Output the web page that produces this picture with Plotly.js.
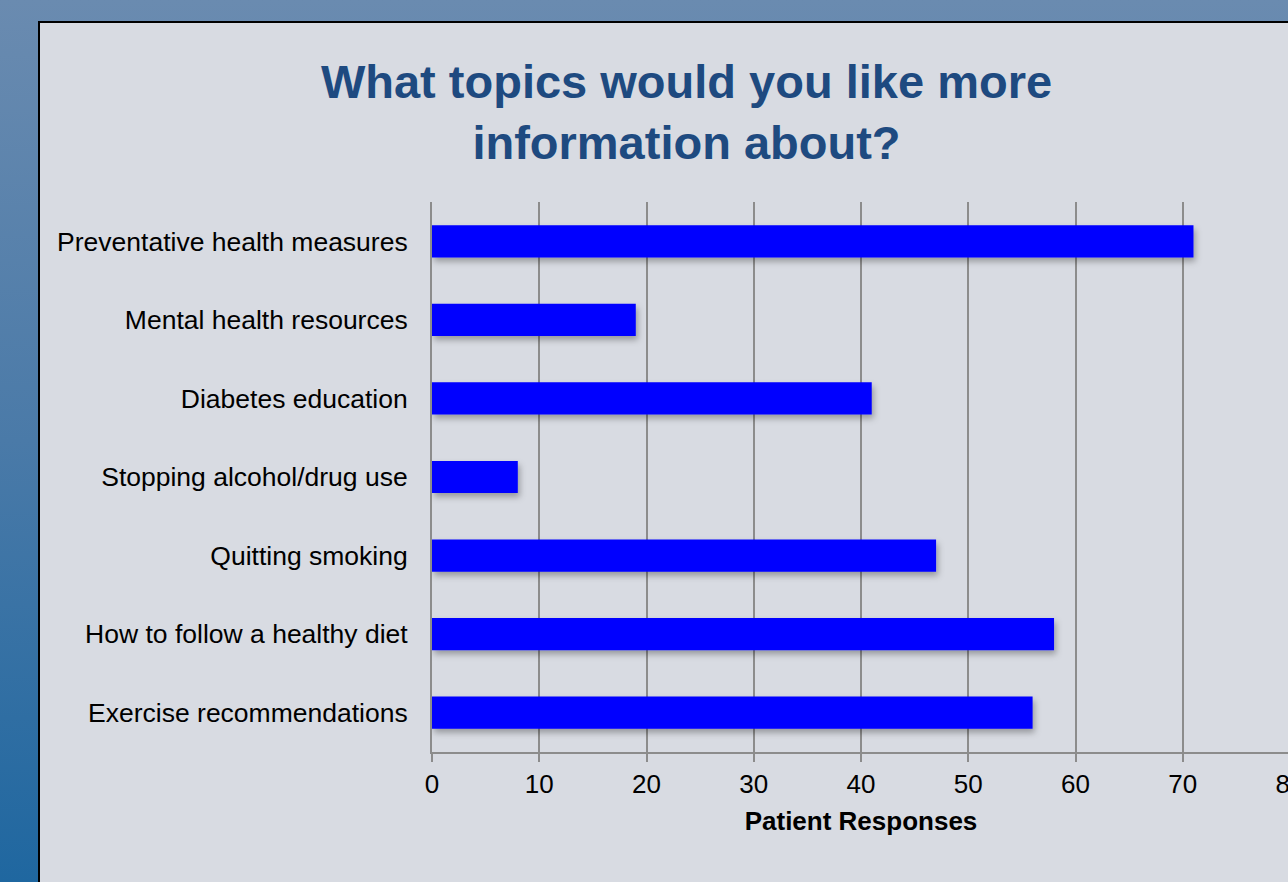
<!DOCTYPE html>
<html>
<head>
<meta charset="utf-8">
<script src="https://cdn.plot.ly/plotly-3.0.1.min.js"></script>
<style>
  html, body { margin: 0; padding: 0; width: 1288px; height: 882px; overflow: hidden; }
  body { background: linear-gradient(to bottom, #6a8bb0 0%, #4a7aa8 50%, #1f67a0 100%); position: relative; }
  #panel { position: absolute; left: 38px; top: 21px; width: 1300px; height: 900px;
           background: #d8dbe2; border-left: 2px solid #000; border-top: 2px solid #000; }
  #chart { position: absolute; left: 0; top: 0; width: 1320px; height: 882px; }
</style>
</head>
<body>
<div id="panel"></div>
<div id="chart"></div>
<script>
// Data (top to bottom as shown)
const categories = [
  "Preventative health measures",
  "Mental health resources",
  "Diabetes education",
  "Stopping alcohol/drug use",
  "Quitting smoking",
  "How to follow a healthy diet",
  "Exercise recommendations"
];
const responses = [71, 19, 41, 8, 47, 58, 56];
const tickValues = [0, 10, 20, 30, 40, 50, 60, 70, 80];

const trace = {
  type: "bar",
  orientation: "h",
  y: categories,
  x: responses,
  width: 0.41,
  marker: { color: "#0000ff", line: { width: 0 } },
  hoverinfo: "x+y"
};

const FONT = "Arial, 'Liberation Sans', Helvetica, sans-serif";
const W = 1320;

const layout = {
  width: W,
  height: 882,
  margin: { l: 432, r: 30, t: 202, b: 130 },
  paper_bgcolor: "rgba(0,0,0,0)",
  plot_bgcolor: "rgba(0,0,0,0)",
  showlegend: false,
  font: { family: FONT, color: "#000" },
  title: {
    text: "<b>What topics would you like more<br>information about?</b>",
    font: { family: FONT, size: 47, color: "#1e4a80" },
    xref: "container",
    x: 686.5 / W,
    xanchor: "center",
    yref: "container",
    y: 1 - 98 / 882,
    yanchor: "middle"
  },
  xaxis: {
    range: [0, 80],
    tickvals: tickValues,
    ticktext: tickValues.map(String),
    showgrid: true,
    gridcolor: "#8c8c8c",
    gridwidth: 2,
    zeroline: false,
    showline: true,
    linecolor: "#8c8c8c",
    linewidth: 2,
    ticks: "outside",
    ticklen: 8,
    tickwidth: 2,
    tickcolor: "#8c8c8c",
    ticklabelstandoff: 0,
    ticklabeloverflow: "allow",
    tickfont: { family: FONT, size: 26, color: "#000" },
    title: {
      text: "<b>Patient Responses</b>",
      font: { family: FONT, size: 26, color: "#000" },
      standoff: 14
    },
    fixedrange: true
  },
  yaxis: {
    categoryorder: "array",
    categoryarray: categories.slice().reverse(),
    autorange: true,
    showgrid: false,
    zeroline: false,
    showline: true,
    linecolor: "#8c8c8c",
    linewidth: 2,
    ticks: "",
    ticklabelstandoff: 17,
    tickfont: { family: FONT, size: 26.5, color: "#000" },
    fixedrange: true
  },
  bargap: 0.59
};

Plotly.newPlot("chart", [trace], layout, { displayModeBar: false, staticPlot: true }).then(function (gd) {
  // soft drop shadow under bars
  const svg = gd.querySelector("svg.main-svg");
  const ns = "http://www.w3.org/2000/svg";
  let defs = svg.querySelector("defs");
  if (!defs) { defs = document.createElementNS(ns, "defs"); svg.insertBefore(defs, svg.firstChild); }
  const f = document.createElementNS(ns, "filter");
  f.setAttribute("id", "barShadow");
  f.setAttribute("x", "-10%"); f.setAttribute("y", "-30%");
  f.setAttribute("width", "130%"); f.setAttribute("height", "180%");
  const ds = document.createElementNS(ns, "feDropShadow");
  ds.setAttribute("dx", "2"); ds.setAttribute("dy", "4");
  ds.setAttribute("stdDeviation", "3");
  ds.setAttribute("flood-color", "#000");
  ds.setAttribute("flood-opacity", "0.3");
  f.appendChild(ds);
  defs.appendChild(f);
  gd.querySelectorAll(".barlayer .point path").forEach(function (p) {
    p.setAttribute("filter", "url(#barShadow)");
  });
});
</script>
</body>
</html>
